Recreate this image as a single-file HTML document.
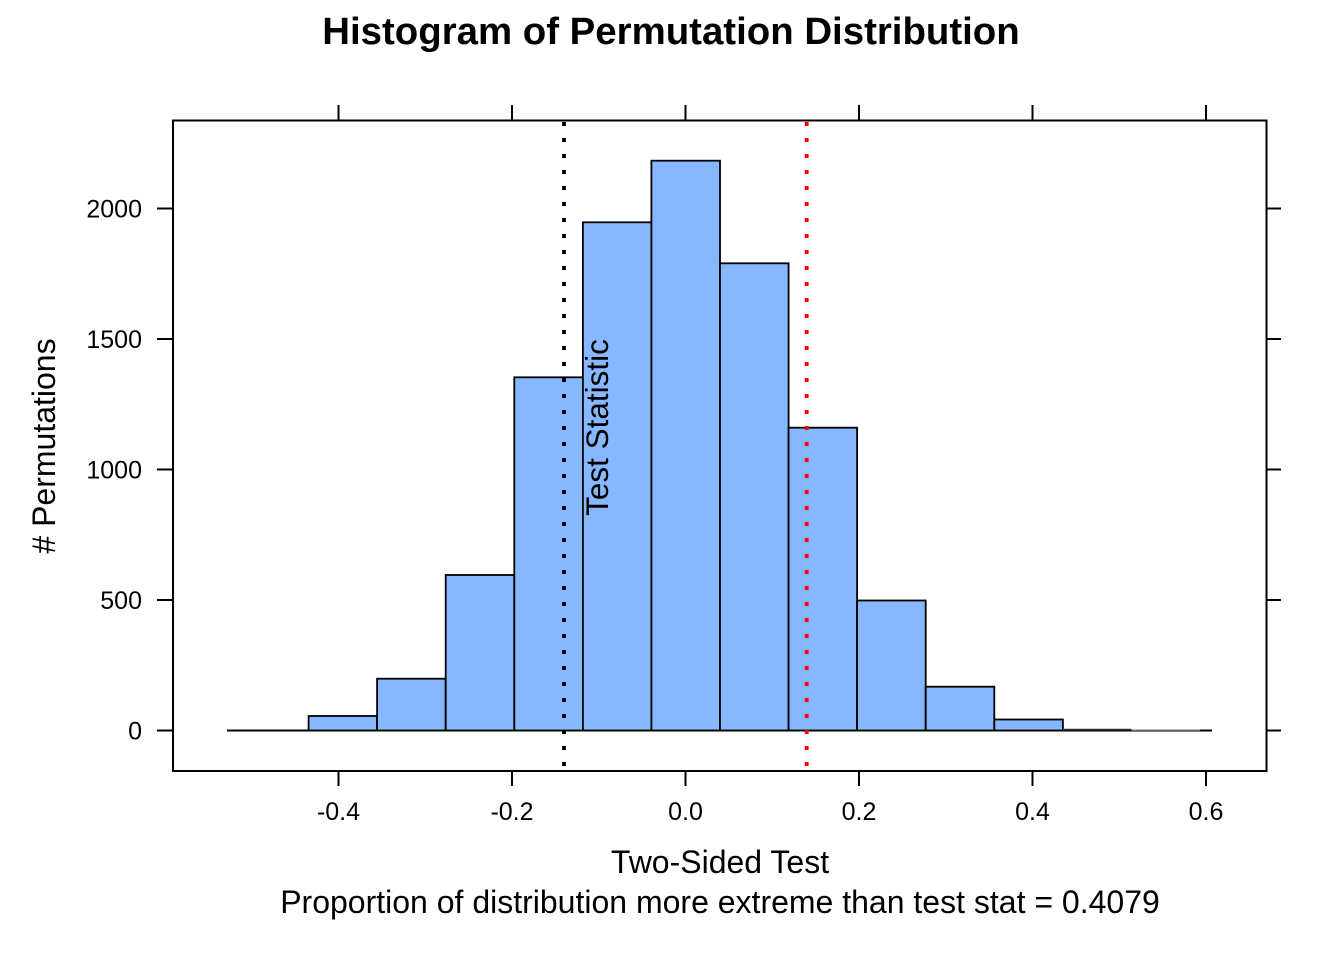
<!DOCTYPE html>
<html>
<head>
<meta charset="utf-8">
<style>
  html, body { margin: 0; padding: 0; background: #ffffff; }
  svg { display: block; }
  text { font-family: "Liberation Sans", Arial, sans-serif; fill: #000; }
</style>
</head>
<body>
<svg width="1344" height="960" viewBox="0 0 1344 960" xmlns="http://www.w3.org/2000/svg">
  <rect x="0" y="0" width="1344" height="960" fill="#ffffff"/>

  <!-- Title -->
  <text x="671" y="44" font-size="38.4" font-weight="bold" text-anchor="middle">Histogram of Permutation Distribution</text>

  <!-- baseline line -->
  <line x1="227" y1="730.5" x2="1212" y2="730.5" stroke="#000" stroke-width="2"/>

  <!-- Bars -->
  <g fill="#87B8FF" stroke="#000" stroke-width="1.8">
    <rect x="308.6" y="716" width="68.5" height="14.5"/>
    <rect x="377.1" y="678.7" width="68.6" height="51.8"/>
    <rect x="445.7" y="575" width="68.6" height="155.5"/>
    <rect x="514.3" y="377.3" width="68.6" height="353.2"/>
    <rect x="582.9" y="222.3" width="68.5" height="508.2"/>
    <rect x="651.4" y="160.7" width="68.6" height="569.8"/>
    <rect x="720" y="263.3" width="68.6" height="467.2"/>
    <rect x="788.6" y="427.7" width="68.5" height="302.8"/>
    <rect x="857.1" y="600.5" width="68.6" height="130"/>
    <rect x="925.7" y="686.7" width="68.6" height="43.8"/>
    <rect x="994.3" y="719.5" width="68.6" height="11"/>
  </g>
  <line x1="1062.9" y1="729.5" x2="1131.4" y2="729.5" stroke="#333" stroke-width="1.5"/>
  <line x1="1131.4" y1="730" x2="1200" y2="730" stroke="#999" stroke-width="1.2"/>

  <!-- Vertical dotted lines -->
  <line x1="564" y1="122" x2="564" y2="770" stroke="#000" stroke-width="3.8" stroke-dasharray="4 12"/>
  <line x1="806.7" y1="122" x2="806.7" y2="770" stroke="#FF0000" stroke-width="3.8" stroke-dasharray="4 12"/>

  <!-- Test Statistic label -->
  <text transform="translate(608,427.5) rotate(-90)" font-size="31.5" text-anchor="middle">Test Statistic</text>

  <!-- Panel border -->
  <rect x="173" y="120.5" width="1093.5" height="650.5" fill="none" stroke="#000" stroke-width="2"/>

  <!-- Ticks -->
  <g stroke="#000" stroke-width="2">
    <line x1="338.5" y1="771" x2="338.5" y2="786"/>
    <line x1="512" y1="771" x2="512" y2="786"/>
    <line x1="685.5" y1="771" x2="685.5" y2="786"/>
    <line x1="859" y1="771" x2="859" y2="786"/>
    <line x1="1032.5" y1="771" x2="1032.5" y2="786"/>
    <line x1="1206" y1="771" x2="1206" y2="786"/>
    <line x1="338.5" y1="105" x2="338.5" y2="120"/>
    <line x1="512" y1="105" x2="512" y2="120"/>
    <line x1="685.5" y1="105" x2="685.5" y2="120"/>
    <line x1="859" y1="105" x2="859" y2="120"/>
    <line x1="1032.5" y1="105" x2="1032.5" y2="120"/>
    <line x1="1206" y1="105" x2="1206" y2="120"/>
    <line x1="157" y1="730.5" x2="173" y2="730.5"/>
    <line x1="157" y1="600" x2="173" y2="600"/>
    <line x1="157" y1="469.5" x2="173" y2="469.5"/>
    <line x1="157" y1="339" x2="173" y2="339"/>
    <line x1="157" y1="208.5" x2="173" y2="208.5"/>
    <line x1="1266" y1="730.5" x2="1281" y2="730.5"/>
    <line x1="1266" y1="600" x2="1281" y2="600"/>
    <line x1="1266" y1="469.5" x2="1281" y2="469.5"/>
    <line x1="1266" y1="339" x2="1281" y2="339"/>
    <line x1="1266" y1="208.5" x2="1281" y2="208.5"/>
  </g>

  <!-- X tick labels -->
  <g font-size="25" text-anchor="middle">
    <text x="338.5" y="820">-0.4</text>
    <text x="512" y="820">-0.2</text>
    <text x="685.5" y="820">0.0</text>
    <text x="859" y="820">0.2</text>
    <text x="1032.5" y="820">0.4</text>
    <text x="1206" y="820">0.6</text>
  </g>

  <!-- Y tick labels -->
  <g font-size="25" text-anchor="end">
    <text x="142" y="739.5">0</text>
    <text x="142" y="609">500</text>
    <text x="142" y="478.5">1000</text>
    <text x="142" y="348">1500</text>
    <text x="142" y="217.5">2000</text>
  </g>

  <!-- Axis labels -->
  <text x="720" y="873" font-size="32" text-anchor="middle">Two-Sided Test</text>
  <text x="720" y="913" font-size="32" text-anchor="middle">Proportion of distribution more extreme than test stat = 0.4079</text>
  <text transform="translate(55,446) rotate(-90)" font-size="32" text-anchor="middle"># Permutations</text>
</svg>
</body>
</html>
